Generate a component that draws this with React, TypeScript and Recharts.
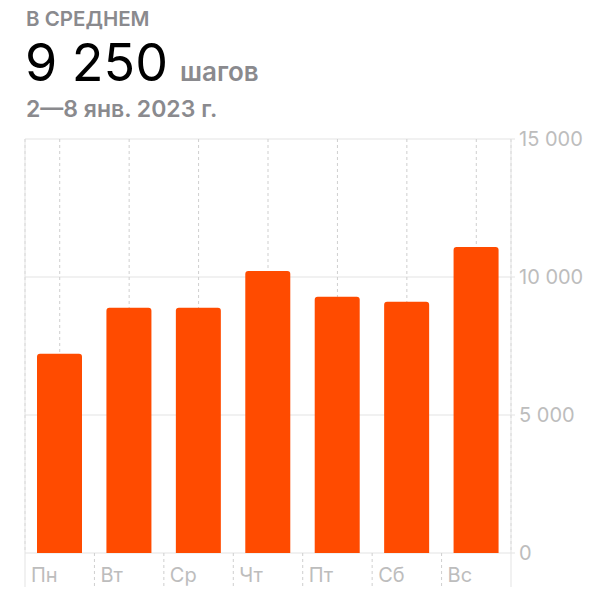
import React from 'react';
import { BarChart, Bar, XAxis, YAxis, CartesianGrid, ReferenceLine } from 'recharts';

const days = ['Пн', 'Вт', 'Ср', 'Чт', 'Пт', 'Сб', 'Вс'];
const steps = [7220, 8890, 8890, 10220, 9280, 9100, 11090];
const yTicks = [0, 5000, 10000, 15000];

const title = 'В СРЕДНЕМ';
const average = '9 250';
const unit = 'шагов';
const period = '2—8 янв. 2023 г.';

const data = days.map((d, i) => ({ day: d, steps: steps[i] }));

const FONT = 'Inter, "Noto Sans", sans-serif';
const GRID = '#e3e3e3';
const DASH = '#cfcfcf';
const LABEL = '#bdbdbd';
const HEAD = '#8a8a8e';
const BAR = '#FF4B00';

const fmt = (v: number) => (v === 0 ? '0' : String(v).replace(/\B(?=(\d{3})+(?!\d))/g, ' '));

const DayTick = (props: any) => {
  const { x, y, payload, index, visibleTicksCount, width } = props;
  const bw = width / visibleTicksCount;
  const left = x - bw / 2;
  const last = index === visibleTicksCount - 1;
  return (
    <g>
      <line
        x1={left}
        x2={left}
        y1={y}
        y2={y + 34}
        stroke={index === 0 ? GRID : DASH}
        strokeDasharray={index === 0 ? undefined : '3 3'}
      />
      {last && <line x1={left + bw} x2={left + bw} y1={y} y2={y + 34} stroke={GRID} />}
      <text x={left + 6} y={y + 29} fill={LABEL} fontSize={20} fontFamily={FONT} textAnchor="start">
        {payload.value}
      </text>
    </g>
  );
};

export default function App() {
  return (
    <div style={{ position: 'absolute', left: 0, top: 0, width: 600, height: 606, background: '#fff', fontFamily: FONT }}>
      <div style={{ position: 'absolute', left: 26, top: 9, fontSize: 20.5, lineHeight: '20.5px', fontWeight: 600, color: HEAD, whiteSpace: 'nowrap' }}>
        {title}
      </div>
      <div style={{ position: 'absolute', left: 25, top: 37, fontSize: 52, lineHeight: '52px', fontWeight: 400, color: '#000', whiteSpace: 'nowrap' }}>
        {average}
        <span style={{ fontSize: 26, fontWeight: 600, color: HEAD, marginLeft: 12 }}>{unit}</span>
      </div>
      <div style={{ position: 'absolute', left: 26, top: 98, fontSize: 23, lineHeight: '23px', fontWeight: 600, color: HEAD, whiteSpace: 'nowrap' }}>
        {period}
      </div>
      <div style={{ position: 'absolute', left: 0, top: 0 }}>
        <BarChart width={600} height={606} data={data} margin={{ top: 139, right: 0, left: 25, bottom: 0 }}>
          <CartesianGrid vertical={false} stroke={GRID} />
          <CartesianGrid horizontal={false} stroke={DASH} strokeDasharray="3 3" />
          <ReferenceLine x={days[0]} position="start" stroke={GRID} />
          <XAxis
            dataKey="day"
            height={53}
            axisLine={false}
            tickLine={false}
            tickSize={0}
            tickMargin={0}
            interval={0}
            tick={<DayTick />}
          />
          <YAxis
            orientation="right"
            width={89}
            domain={[0, 15000]}
            ticks={yTicks}
            axisLine={{ stroke: GRID }}
            tickLine={{ stroke: GRID }}
            tickSize={4}
            tickMargin={4}
            tickFormatter={fmt}
            tick={{ fill: LABEL, fontSize: 20, fontFamily: FONT, textAnchor: 'start' }}
          />
          <Bar dataKey="steps" fill={BAR} barSize={45} radius={[3, 3, 0, 0]} isAnimationActive={false} />
        </BarChart>
      </div>
    </div>
  );
}
